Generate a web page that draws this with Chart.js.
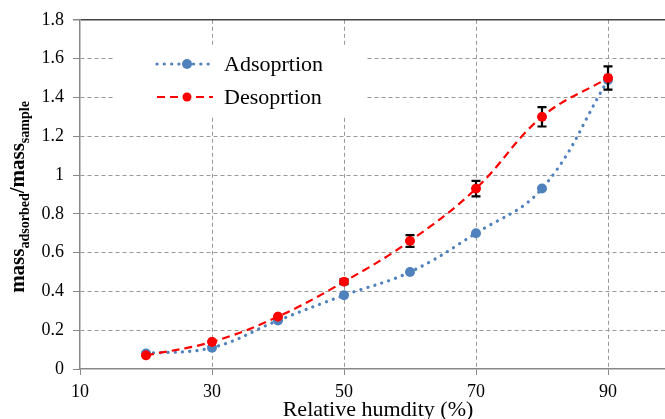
<!DOCTYPE html>
<html>
<head>
<meta charset="utf-8">
<script src="https://cdn.jsdelivr.net/npm/chart.js@4"></script>
<style>
html,body{margin:0;padding:0;background:#fff;overflow:hidden;width:665px;height:419px;}
#wrap{width:665px;height:419px;overflow:hidden;position:relative;}
canvas{display:block;}
</style>
</head>
<body>
<div id="wrap"><canvas id="c" width="700" height="419"></canvas></div>
<script>
// ---- data ----
const humidity = [20, 30, 40, 50, 60, 70, 80, 90];
const adsorption = [0.08, 0.11, 0.25, 0.38, 0.50, 0.70, 0.93, 1.49];
const desorption = [0.07, 0.14, 0.27, 0.45, 0.66, 0.93, 1.30, 1.50];
const desorptionError = [0, 0, 0, 0.012, 0.03, 0.04, 0.05, 0.06];
const seriesNames = ['Adsoprtion', 'Desoprtion'];
const xTickValues = [10, 30, 50, 70, 90];
const yTickValues = [0, 0.2, 0.4, 0.6, 0.8, 1, 1.2, 1.4, 1.6, 1.8];
const xTitle = 'Relative humdity (%)';

const BLUE = '#4f81bd';
const RED = '#ff0000';
const SERIF = '"Liberation Serif", "Times New Roman", serif';

const toPoints = (ys) => humidity.map((x, i) => ({x: x, y: ys[i]}));

const errorBars = {
  id: 'errorBars',
  afterDatasetsDraw(chart) {
    const meta = chart.getDatasetMeta(1);
    const ys = chart.scales.y, xs = chart.scales.x;
    const ctx = chart.ctx;
    ctx.save();
    ctx.beginPath();
    ctx.setLineDash([]);
    ctx.strokeStyle = '#000';
    ctx.lineWidth = 2.2;
    humidity.forEach((h, i) => {
      const e = desorptionError[i];
      if (!e) return;
      const x = xs.getPixelForValue(h);
      const y1 = ys.getPixelForValue(desorption[i] + e);
      const y2 = ys.getPixelForValue(desorption[i] - e);
      ctx.beginPath();
      ctx.moveTo(x, y1); ctx.lineTo(x, y2);
      ctx.moveTo(x - 4.5, y1); ctx.lineTo(x + 4.5, y1);
      ctx.moveTo(x - 4.5, y2); ctx.lineTo(x + 4.5, y2);
      ctx.stroke();
    });
    meta.data.forEach(pt => {
      ctx.beginPath();
      ctx.fillStyle = RED;
      ctx.arc(pt.x, pt.y, 4.8, 0, Math.PI * 2);
      ctx.fill();
    });
    ctx.beginPath();
    ctx.restore();
  }
};

const legendAndTitles = {
  id: 'legendAndTitles',
  beforeDatasetsDraw(chart) {
    const ctx = chart.ctx;
    ctx.save();
    ctx.beginPath();
    ctx.fillStyle = '#fff';
    ctx.fillRect(115, 47, 252, 68);
    ctx.restore();
  },
  afterDraw(chart) {
    const ctx = chart.ctx;
    const ca = chart.chartArea;
    ctx.save();
    // clean right-hand strip and continue the dashed horizontal grid lines through it
    ctx.beginPath();
    ctx.fillStyle = '#fff';
    ctx.fillRect(645, ca.top + 2, 60, ca.bottom - ca.top - 4);
    ctx.strokeStyle = '#999';
    ctx.lineWidth = 1;
    ctx.setLineDash([4, 3]);
    ctx.lineDashOffset = (645 - ca.left) % 7;
    yTickValues.forEach(v => {
      if (v === 0 || v === 1.8) return;
      const y = Math.round(chart.scales.y.getPixelForValue(v) - 0.5) + 0.5;
      ctx.beginPath();
      ctx.moveTo(645, y); ctx.lineTo(ca.right, y);
      ctx.stroke();
    });
    ctx.setLineDash([]);
    ctx.lineDashOffset = 0;
    // legend
    const rows = [
      {y: 64, color: BLUE, dash: [0.1, 7.2], cap: 'round', width: 3.2, r: 5},
      {y: 97, color: RED, dash: [8, 5], cap: 'butt', width: 2.2, r: 4.5}
    ];
    rows.forEach((r, i) => {
      ctx.beginPath();
      ctx.setLineDash(r.dash);
      ctx.lineCap = r.cap;
      ctx.lineWidth = r.width;
      ctx.strokeStyle = r.color;
      ctx.moveTo(157, r.y); ctx.lineTo(213, r.y);
      ctx.stroke();
      ctx.setLineDash([]);
      ctx.beginPath();
      ctx.fillStyle = r.color;
      ctx.arc(187, r.y, r.r, 0, Math.PI * 2);
      ctx.fill();
      ctx.beginPath();
      ctx.fillStyle = '#000';
      ctx.font = '22px ' + SERIF;
      ctx.textBaseline = 'alphabetic';
      ctx.textAlign = 'left';
      ctx.fillText(seriesNames[i], 224, r.y + 7);
    });
    ctx.font = '22px ' + SERIF;
    ctx.textAlign = 'center';
    ctx.fillStyle = '#000';
    ctx.fillText(xTitle, 378, 416);
    const parts = [
      {t: 'mass', f: 'bold 21px ' + SERIF, dy: 0},
      {t: 'adsorbed', f: 'bold 14px ' + SERIF, dy: 5},
      {t: '/mass', f: 'bold 21px ' + SERIF, dy: 0},
      {t: 'sample', f: 'bold 14px ' + SERIF, dy: 5}
    ];
    let total = 0;
    parts.forEach(p => { ctx.font = p.f; p.w = ctx.measureText(p.t).width; total += p.w; });
    ctx.translate(23.5, 197);
    ctx.rotate(-Math.PI / 2);
    ctx.textAlign = 'left';
    let x = -total / 2;
    parts.forEach(p => {
      ctx.font = p.f;
      ctx.fillText(p.t, x, p.dy);
      x += p.w;
    });
    ctx.beginPath();
    ctx.restore();
  }
};

const gridDash = (ctx) => (ctx.tick && ctx.tick.value === 1.8) ? [] : [4, 3];

new Chart(document.getElementById('c'), {
  type: 'line',
  data: {
    datasets: [
      {
        label: seriesNames[0],
        data: toPoints(adsorption),
        borderColor: BLUE,
        backgroundColor: BLUE,
        borderWidth: 3.2,
        borderDash: [0.1, 7.2],
        borderCapStyle: 'round',
        pointRadius: 5,
        pointBorderWidth: 0,
        pointBackgroundColor: BLUE,
        tension: 0.4,
        order: 1
      },
      {
        label: seriesNames[1],
        data: toPoints(desorption),
        borderColor: RED,
        backgroundColor: RED,
        borderWidth: 2.2,
        borderDash: [8, 5],
        pointRadius: 4.8,
        pointBorderWidth: 0,
        pointBackgroundColor: RED,
        tension: 0.4,
        order: 0
      }
    ]
  },
  options: {
    responsive: false,
    animation: false,
    devicePixelRatio: 1,
    layout: {padding: {top: 19, right: 26, left: 0, bottom: 0}},
    plugins: {legend: {display: false}, tooltip: {enabled: false}},
    scales: {
      x: {
        type: 'linear',
        min: 10, max: 100,
        afterBuildTicks: (s) => { s.ticks = xTickValues.map(v => ({value: v})); },
        afterFit: (s) => { s.height = 50; },
        ticks: {font: {family: SERIF, size: 18}, color: '#000', padding: 6, maxRotation: 0},
        grid: {
          color: (c) => (c.tick && c.tick.value === 10) ? 'rgba(0,0,0,0)' : '#999',
          lineWidth: 1,
          tickLength: 6, tickColor: '#888', tickBorderDash: []
        },
        border: {color: '#888', width: 1.5, dash: [4, 3]}
      },
      y: {
        type: 'linear',
        min: 0, max: 1.8,
        afterBuildTicks: (s) => { s.ticks = yTickValues.map(v => ({value: v})); },
        afterFit: (s) => { s.width = 80; },
        ticks: {font: {family: SERIF, size: 18}, color: '#000', padding: 9,
                callback: (v) => String(Math.round(v * 10) / 10)},
        grid: {
          color: (c) => (c.tick && c.tick.value === 1.8) ? '#444' : ((c.tick && c.tick.value === 0) ? 'rgba(0,0,0,0)' : '#999'),
          lineWidth: (c) => (c.tick && c.tick.value === 1.8) ? 1.5 : 1,
          tickLength: 7, tickColor: '#888', tickBorderDash: []
        },
        border: {color: '#888', width: 1.5, dash: gridDash}
      }
    }
  },
  plugins: [legendAndTitles, errorBars]
});
</script>
</body>
</html>
